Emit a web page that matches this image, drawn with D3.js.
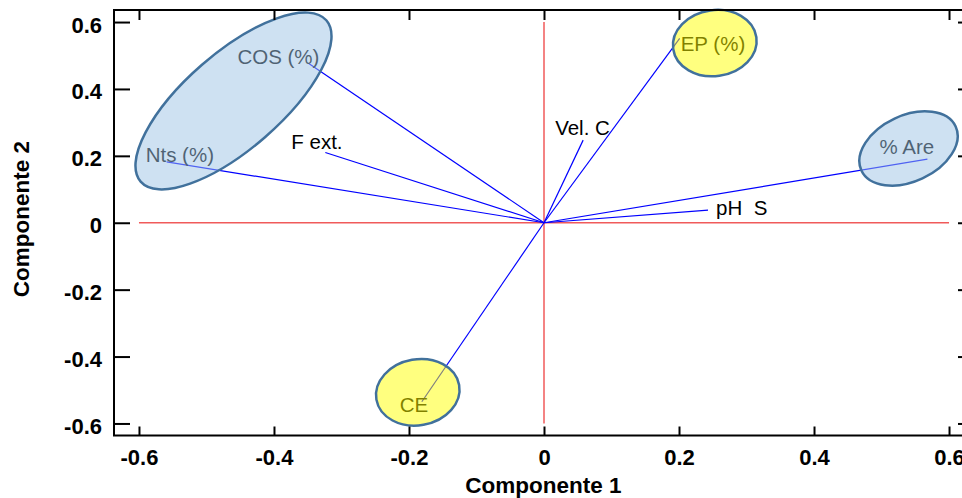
<!DOCTYPE html>
<html>
<head>
<meta charset="utf-8">
<script src="https://cdn.jsdelivr.net/npm/d3@7"></script>
<style>
  html, body { margin: 0; padding: 0; background: #fff; }
  svg { display: block; font-family: "Liberation Sans", Arial, sans-serif; }
</style>
</head>
<body>
<svg id="chart" width="962" height="498"></svg>
<script>
// Variable loadings on the first two principal components
const variables = ["Nts (%)", "COS (%)", "F ext.", "Vel. C", "EP (%)", "% Are", "pH  S", "CE"];
const comp1 = [-0.559, -0.349, -0.324, 0.058, 0.201, 0.568, 0.243, -0.181];
const comp2 = [0.182, 0.477, 0.210, 0.247, 0.551, 0.190, 0.038, -0.535];

const tickValues = [-0.6, -0.4, -0.2, 0, 0.2, 0.4, 0.6];
const tickLabels = ["-0.6", "-0.4", "-0.2", "0", "0.2", "0.4", "0.6"];

// Label placement relative to each vector tip (pixels)
const labelOffsets = [[-21, 0], [-71, 1], [-34, -4], [-28, -5], [1, 13], [-48, -5], [8, 5], [-22, 10]];

// Grouping ellipses: centre in data units, radii in pixels, rotation in degrees
const groups = [
  { cx: -0.460, cy: 0.364, rx: 123, ry: 48, rot: -41, fill: "#9DC3E6" },
  { cx: 0.253, cy: 0.537, rx: 42, ry: 33, rot: -8, fill: "#FFFF00" },
  { cx: 0.540, cy: 0.222, rx: 52, ry: 33, rot: -25, fill: "#9DC3E6" },
  { cx: -0.187, cy: -0.507, rx: 42, ry: 33, rot: -10, fill: "#FFFF00" }
];

const svg = d3.select("#chart");
const plotLeft = 114, plotRight = 974, plotTop = 10, plotBottom = 435.5;

const x = d3.scaleLinear().domain([-0.637, 0.637]).range([plotLeft, plotRight]);
const y = d3.scaleLinear().domain([-0.636, 0.636]).range([plotBottom, plotTop]);

// Reference cross through the origin
svg.append("line")
  .attr("x1", x(-0.6)).attr("x2", x(0.6))
  .attr("y1", y(0)).attr("y2", y(0))
  .attr("stroke", "#f05a5a").attr("stroke-width", 1.5);
svg.append("line")
  .attr("x1", x(0)).attr("x2", x(0))
  .attr("y1", y(0.6)).attr("y2", y(-0.6))
  .attr("stroke", "#f05a5a").attr("stroke-width", 1.5);

const pts = variables.map((v, i) => ({ name: v, a: comp1[i], b: comp2[i], off: labelOffsets[i] }));

// Loading vectors
svg.append("g").selectAll("line").data(pts).join("line")
  .attr("x1", x(0)).attr("y1", y(0))
  .attr("x2", d => x(d.a)).attr("y2", d => y(d.b))
  .attr("stroke", "#0000ff").attr("stroke-width", 1.2);

// Variable names
svg.append("g").selectAll("text").data(pts).join("text")
  .attr("x", d => x(d.a) + d.off[0])
  .attr("y", d => y(d.b) + d.off[1])
  .style("white-space", "pre")
  .attr("font-size", 20.5)
  .attr("fill", "#000")
  .text(d => d.name);

// Translucent grouping ellipses
svg.append("g").selectAll("ellipse").data(groups).join("ellipse")
  .attr("transform", d => `translate(${x(d.cx)},${y(d.cy)}) rotate(${d.rot})`)
  .attr("rx", d => d.rx).attr("ry", d => d.ry)
  .attr("fill", d => d.fill).attr("fill-opacity", 0.5)
  .attr("stroke", "#41719C").attr("stroke-width", 2.5);

// Frame
svg.append("rect")
  .attr("x", plotLeft).attr("y", plotTop)
  .attr("width", plotRight - plotLeft).attr("height", plotBottom - plotTop)
  .attr("fill", "none").attr("stroke", "#000").attr("stroke-width", 2);

// Axes with inward ticks
const tickFmt = (d, i) => tickLabels[i];
svg.append("g").attr("transform", `translate(0,${plotBottom})`)
  .call(d3.axisBottom(x).tickValues(tickValues).tickFormat(tickFmt).tickSizeInner(-9).tickSizeOuter(0).tickPadding(0))
  .call(g => {
    g.select(".domain").remove();
    g.selectAll("line").attr("stroke", "#000").attr("stroke-width", 2);
    g.selectAll("text").attr("y", 29.5).attr("dy", null)
      .attr("font-size", 22).attr("font-weight", "bold").attr("fill", "#000")
      .attr("font-family", "Liberation Sans, Arial, sans-serif");
  });
svg.append("g").attr("transform", `translate(0,${plotTop})`)
  .call(d3.axisTop(x).tickValues(tickValues).tickFormat("").tickSizeInner(-10).tickSizeOuter(0))
  .call(g => { g.select(".domain").remove(); g.selectAll("line").attr("stroke", "#000").attr("stroke-width", 2); });
svg.append("g").attr("transform", `translate(${plotLeft},0)`)
  .call(d3.axisLeft(y).tickValues(tickValues).tickFormat(tickFmt).tickSizeInner(-16).tickSizeOuter(0).tickPadding(0))
  .call(g => {
    g.select(".domain").remove();
    g.selectAll("line").attr("stroke", "#000").attr("stroke-width", 2);
    g.selectAll("text").attr("x", -12).attr("dy", null).attr("y", 10)
      .attr("text-anchor", "end")
      .attr("font-size", 22).attr("font-weight", "bold").attr("fill", "#000")
      .attr("font-family", "Liberation Sans, Arial, sans-serif");
  });
svg.append("g").attr("transform", `translate(${plotRight},0)`)
  .call(d3.axisRight(y).tickValues(tickValues).tickFormat("").tickSizeInner(-16).tickSizeOuter(0))
  .call(g => { g.select(".domain").remove(); g.selectAll("line").attr("stroke", "#000").attr("stroke-width", 2); });

// Axis titles
svg.append("text")
  .attr("x", x(0) - 0.5).attr("y", 493)
  .attr("text-anchor", "middle")
  .attr("font-size", 22.5).attr("font-weight", "bold")
  .text("Componente 1");
svg.append("text")
  .attr("transform", "translate(29,219) rotate(-90)")
  .attr("text-anchor", "middle")
  .attr("font-size", 22.5).attr("font-weight", "bold")
  .text("Componente 2");
</script>
</body>
</html>
